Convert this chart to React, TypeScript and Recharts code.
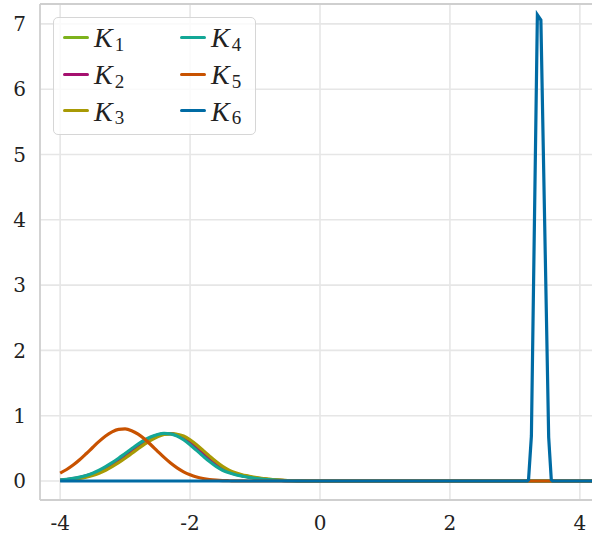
import React from "react";
import {
  LineChart,
  Line,
  XAxis,
  YAxis,
  CartesianGrid,
  Legend,
  ReferenceLine,
} from "recharts";

// x grid of the smooth densities (left part of the plot)
const xLeft = [
  -4.0, -3.9, -3.8, -3.7, -3.6, -3.5, -3.4, -3.3, -3.2, -3.1, -3.0, -2.9, -2.8,
  -2.7, -2.6, -2.5, -2.4, -2.3, -2.2, -2.1, -2.0, -1.9, -1.8, -1.7, -1.6, -1.5,
  -1.4, -1.3, -1.2, -1.1, -1.0, -0.9, -0.8, -0.7, -0.6, -0.5, -0.4, -0.3, -0.2,
];
const k1Left = [
  0.011, 0.019, 0.031, 0.048, 0.07, 0.099, 0.138, 0.187, 0.244, 0.307, 0.377,
  0.451, 0.522, 0.59, 0.648, 0.692, 0.72, 0.726, 0.71, 0.665, 0.601, 0.521,
  0.433, 0.348, 0.267, 0.2, 0.149, 0.113, 0.087, 0.067, 0.049, 0.036, 0.026,
  0.017, 0.011, 0.007, 0.004, 0.002, 0.001,
];
const k2Left = [
  0.013, 0.022, 0.036, 0.054, 0.078, 0.11, 0.152, 0.204, 0.262, 0.328, 0.399,
  0.472, 0.544, 0.609, 0.663, 0.703, 0.724, 0.725, 0.699, 0.648, 0.578, 0.495,
  0.407, 0.322, 0.245, 0.182, 0.137, 0.104, 0.081, 0.061, 0.045, 0.033, 0.023,
  0.015, 0.01, 0.006, 0.004, 0.002, 0.0,
];
const k3Left = [
  0.009, 0.015, 0.025, 0.04, 0.06, 0.085, 0.12, 0.165, 0.22, 0.28, 0.348, 0.421,
  0.494, 0.565, 0.628, 0.678, 0.713, 0.722, 0.716, 0.689, 0.631, 0.555, 0.469,
  0.381, 0.297, 0.223, 0.165, 0.125, 0.095, 0.075, 0.055, 0.04, 0.03, 0.02,
  0.013, 0.008, 0.005, 0.003, 0.001,
];
const k4Left = [
  0.015, 0.025, 0.04, 0.06, 0.085, 0.12, 0.165, 0.22, 0.28, 0.348, 0.421, 0.494,
  0.565, 0.628, 0.678, 0.713, 0.729, 0.723, 0.689, 0.631, 0.555, 0.469, 0.381,
  0.297, 0.223, 0.165, 0.125, 0.095, 0.075, 0.055, 0.04, 0.03, 0.02, 0.013,
  0.008, 0.005, 0.003, 0.001, 0.0,
];
const k5Left = [
  0.121, 0.176, 0.244, 0.325, 0.417, 0.513, 0.607, 0.69, 0.753, 0.79, 0.797,
  0.771, 0.718, 0.642, 0.551, 0.455, 0.361, 0.275, 0.201, 0.141, 0.096, 0.062,
  0.039, 0.023, 0.013, 0.007, 0.004, 0.002, 0.001, 0, 0, 0, 0, 0, 0, 0, 0, 0, 0,
];
const k6Left = [
  0, 0, 0, 0, 0, 0, 0, 0, 0, 0, 0, 0, 0, 0, 0, 0, 0, 0, 0, 0, 0, 0, 0, 0, 0, 0,
  0, 0, 0, 0, 0, 0, 0, 0, 0, 0, 0, 0, 0,
];

// right part (spike of K6)
const xRight = [0, 1, 2, 3, 3.19, 3.21, 3.254, 3.346, 3.4, 3.52, 3.56, 3.58, 4.0, 4.4];
const k1Right = [0, 0, 0, 0, 0, 0, 0, 0, 0, 0, 0, 0, 0, 0];
const k2Right = [0, 0, 0, 0, 0, 0, 0, 0, 0, 0, 0, 0, 0, 0];
const k3Right = [0, 0, 0, 0, 0, 0, 0, 0, 0, 0, 0, 0, 0, 0];
const k4Right = [0, 0, 0, 0, 0, 0, 0, 0, 0, 0, 0, 0, 0, 0];
const k5Right = [0, 0, 0, 0, 0, 0, 0, 0, 0, 0, 0, 0, 0, 0];
const k6Right = [0, 0, 0, 0, 0, 0.02, 0.69, 7.14, 7.06, 0.67, 0.02, 0, 0, 0];

const seriesKeys = ["K1", "K2", "K3", "K4", "K5", "K6"];
const seriesSubs = ["1", "2", "3", "4", "5", "6"];
const seriesColors = ["#7db21c", "#a5106f", "#a89a05", "#13a796", "#c85200", "#006ba4"];

const xTicks = [-4, -2, 0, 2, 4];
const yTicks = [0, 1, 2, 3, 4, 5, 6, 7];
const X_DOMAIN: [number, number] = [-4.31, 4.31];
const Y_DOMAIN: [number, number] = [-0.291, 7.305];

const xs = [...xLeft, ...xRight];
const cols = [
  [...k1Left, ...k1Right],
  [...k2Left, ...k2Right],
  [...k3Left, ...k3Right],
  [...k4Left, ...k4Right],
  [...k5Left, ...k5Right],
  [...k6Left, ...k6Right],
];
const data = xs.map((x, i) => {
  const row: Record<string, number> = { x };
  seriesKeys.forEach((k, j) => {
    row[k] = cols[j][i];
  });
  return row;
});

const FONT = "'DejaVu Serif', 'Liberation Serif', serif";
const LFONT = "'Liberation Serif', serif";

const tickStyle = {
  fill: "#222",
  fontSize: 20,
  fontFamily: FONT,
  style: { fontFamily: FONT },
};

const LegendBox = () => (
  <div
    style={{
      width: 201,
      height: 115,
      border: "1px solid #d6d6d6",
      borderRadius: 5,
      background: "rgba(255,255,255,0.8)",
      display: "grid",
      gridTemplateColumns: "117px 84px",
      gridTemplateRows: "36.7px 36.7px 36.7px",
      gridAutoFlow: "column",
      paddingTop: 1,
      boxSizing: "content-box",
      fontFamily: LFONT,
      color: "#222",
    }}
  >
    {seriesKeys.map((k, i) => (
      <div
        key={k}
        style={{ display: "flex", alignItems: "center", paddingLeft: 9, height: 36.7 }}
      >
        <div
          style={{
            width: 26,
            height: 3,
            borderRadius: 1.5,
            background: seriesColors[i],
            marginRight: 5,
          }}
        />
        <span style={{ fontStyle: "italic", fontSize: 28, lineHeight: "28px", position: "relative", top: 1 }}>
          K
        </span>
        <span style={{ fontSize: 19, lineHeight: "19px", position: "relative", top: 7, marginLeft: 2 }}>
          {seriesSubs[i]}
        </span>
      </div>
    ))}
  </div>
);

export default function App() {
  return (
    <div
      style={{
        position: "absolute",
        left: 0,
        top: 0,
        width: 592,
        height: 538,
        overflow: "hidden",
        background: "#fff",
        fontFamily: FONT,
      }}
    >
      <LineChart
        width={600}
        height={538}
        data={data}
        margin={{ top: 4, right: 0, bottom: 0, left: 0 }}
        style={{ fontFamily: FONT }}
      >
        <CartesianGrid stroke="#e6e6e6" strokeWidth={1.6} horizontalValues={yTicks} verticalValues={xTicks} />
        <XAxis
          dataKey="x"
          type="number"
          domain={X_DOMAIN}
          ticks={xTicks}
          allowDataOverflow
          height={38}
          tickSize={0}
          tickMargin={16}
          axisLine={{ stroke: "#cfcfcf", strokeWidth: 1.8 }}
          tickLine={false}
          tick={tickStyle}
        />
        <YAxis
          type="number"
          domain={Y_DOMAIN}
          ticks={yTicks}
          allowDataOverflow
          width={40}
          tickSize={0}
          tickMargin={14}
          axisLine={{ stroke: "#cfcfcf", strokeWidth: 1.8 }}
          tickLine={false}
          tick={tickStyle}
        />
        <ReferenceLine y={Y_DOMAIN[1]} stroke="#cfcfcf" strokeWidth={1.8} ifOverflow="visible" />
        {seriesKeys.map((k, i) => (
          <Line
            key={k}
            dataKey={k}
            name={k}
            type={i === 5 ? "linear" : "monotone"}
            stroke={seriesColors[i]}
            strokeWidth={3.2}
            dot={false}
            activeDot={false}
            isAnimationActive={false}
          />
        ))}
        <Legend
          layout="vertical"
          verticalAlign="middle"
          align="center"
          content={() => <LegendBox />}
          wrapperStyle={{ position: "absolute", left: 53, top: 17, width: "auto", height: "auto" }}
        />
      </LineChart>
    </div>
  );
}
